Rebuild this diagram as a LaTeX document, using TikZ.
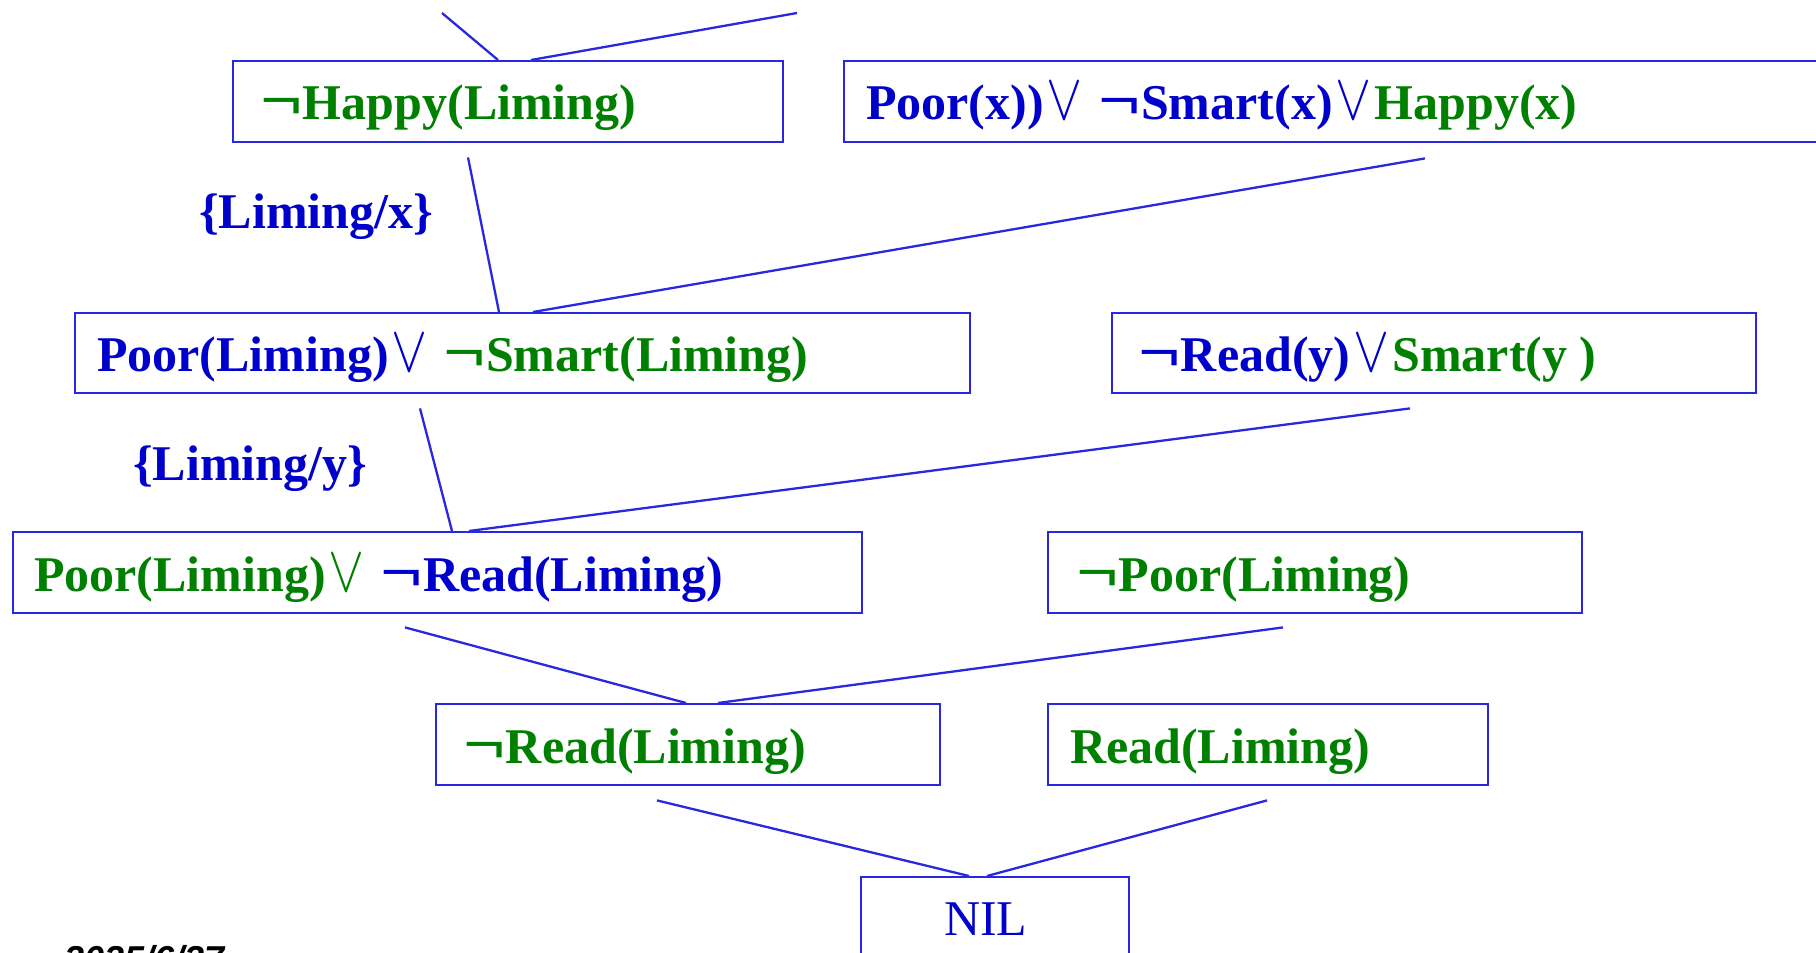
\documentclass[tikz,border=0pt]{standalone}
\usepackage{fontspec}
\setmainfont{Liberation Serif}
\newfontfamily\datefont{Liberation Sans}
\usetikzlibrary{calc}

\definecolor{edgeblue}{RGB}{40,40,225}
\definecolor{txtblue}{RGB}{0,0,204}
\definecolor{txtgreen}{RGB}{0,128,0}

% thin, tall "or" sign between literals
\newcommand{\orsym}{\kern3pt\scalebox{5.4}[6.6]{\normalsize$\vee$}\kern3pt}
% wide negation sign
\newcommand{\ngt}{\scalebox{1.5}[1.15]{¬}}
\newcommand{\bl}[1]{\textcolor{txtblue}{#1}}
\newcommand{\gr}[1]{\textcolor{txtgreen}{#1}}

\tikzset{
  clause/.style={draw=edgeblue, line width=2.4pt, rectangle, inner sep=0pt, anchor=north west},
  formula/.style={inner sep=0pt, anchor=base west, font=\fontsize{50}{60}\selectfont\bfseries},
  subst/.style={formula, text=txtblue},
  link/.style={draw=edgeblue, line width=2.3pt},
}

\begin{document}
\begin{tikzpicture}[x=1pt,y=-1pt]
  \useasboundingbox (0,0) rectangle (1816,953);
  \fill[white] (0,0) rectangle (1816,953);
  \clip (0,0) rectangle (1816,953);

  % clause boxes
  \node[clause, minimum width=550pt, minimum height=81pt] (b1) at (232,60) {};
  \node[clause, minimum width=987pt, minimum height=81pt] (b2) at (843,60) {};
  \node[clause, minimum width=895pt, minimum height=80pt] (b3) at (74,312) {};
  \node[clause, minimum width=644pt, minimum height=80pt] (b4) at (1111,312) {};
  \node[clause, minimum width=849pt, minimum height=81pt] (b5) at (12,531) {};
  \node[clause, minimum width=534pt, minimum height=81pt] (b6) at (1047,531) {};
  \node[clause, minimum width=504pt, minimum height=81pt] (b7) at (435,703) {};
  \node[clause, minimum width=440pt, minimum height=81pt] (b8) at (1047,703) {};
  \node[clause, minimum width=268pt, minimum height=130pt] (nil) at (860,876) {};

  % clause texts
  \node[formula] (f1) at ($(b1.north west)+(28,59)$) {\gr{\ngt Happy(Liming)}};
  \node[formula] (f2) at ($(b2.north west)+(23,59)$) {\bl{Poor(x))\orsym{} \ngt Smart(x)\orsym}\gr{Happy(x)}};
  \node[formula] (f3) at ($(b3.north west)+(23,59)$) {\bl{Poor(Liming)\orsym{} }\gr{\ngt Smart(Liming)}};
  \node[formula] (f4) at ($(b4.north west)+(27,59)$) {\bl{\ngt Read(y)\orsym}\gr{Smart(y )}};
  \node[formula] (f5) at ($(b5.north west)+(22,60)$) {\gr{Poor(Liming)\orsym{} }\bl{\ngt Read(Liming)}};
  \node[formula] (f6) at ($(b6.north west)+(29,60)$) {\gr{\ngt Poor(Liming)}};
  \node[formula] (f7) at ($(b7.north west)+(28,60)$) {\gr{\ngt Read(Liming)}};
  \node[formula] (f8) at ($(b8.north west)+(23,60)$) {\gr{Read(Liming)}};
  \node[formula, font=\fontsize{50}{60}\selectfont, text=txtblue] (fnil) at ($(nil.north west)+(84,59)$) {NIL};

  % substitutions
  \node[subst] (s1) at (199,228) {\{Liming/x\}};
  \node[subst] (s2) at (133,480) {\{Liming/y\}};

  % resolution links
  \coordinate (up1) at (442,13);
  \coordinate (up2) at (797,13);
  \draw[link] (up1) -- ($(b1.north west)+(266,0)$);
  \draw[link] ($(b1.north west)+(299,0)$) -- (up2);
  \draw[link] ($(b1.south west)+(236,14)$) -- ($(b3.north west)+(425,0)$);
  \draw[link] ($(b2.south west)+(582,15)$) -- ($(b3.north west)+(459,0)$);
  \draw[link] ($(b3.south west)+(346,14)$) -- ($(b5.north west)+(440,0)$);
  \draw[link] ($(b4.south west)+(299,14)$) -- ($(b5.north west)+(457,0)$);
  \draw[link] ($(b5.south west)+(393,13)$) -- ($(b7.north west)+(251,0)$);
  \draw[link] ($(b6.south west)+(236,13)$) -- ($(b7.north west)+(283,0)$);
  \draw[link] ($(b7.south west)+(222,14)$) -- ($(nil.north west)+(109,0)$);
  \draw[link] ($(b8.south west)+(220,14)$) -- ($(nil.north west)+(127,0)$);

  % footer date
  \node[anchor=base west, inner sep=0pt, font=\datefont\fontsize{36}{40}\selectfont\bfseries\itshape] (date) at (64,971) {2025/6/27};
\end{tikzpicture}
\end{document}
